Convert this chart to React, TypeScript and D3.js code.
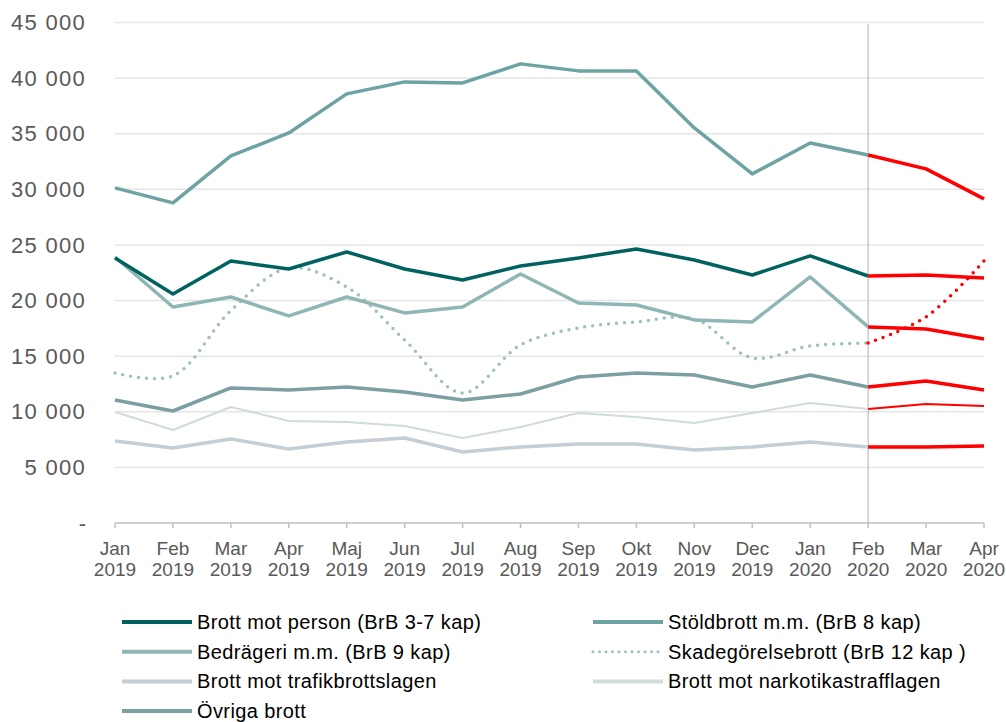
import { useEffect } from 'react';
import * as d3 from 'd3';

// monthly counts, Jan 2019 - Feb 2020 (observed) and Feb - Apr 2020 (forecast)
const months = ['Jan', 'Feb', 'Mar', 'Apr', 'Maj', 'Jun', 'Jul', 'Aug', 'Sep', 'Okt', 'Nov', 'Dec', 'Jan', 'Feb', 'Mar', 'Apr'];
const years = ['2019', '2019', '2019', '2019', '2019', '2019', '2019', '2019', '2019', '2019', '2019', '2019', '2020', '2020', '2020', '2020'];
const yTicks = [0, 5000, 10000, 15000, 20000, 25000, 30000, 35000, 40000, 45000];

const person = [23830, 20590, 23560, 22840, 24370, 22840, 21850, 23110, 23830, 24640, 23650, 22300, 24010, 22210];
const personFc = [22210, 22300, 22030];
const stold = [30130, 28780, 33000, 35070, 38580, 39660, 39570, 41280, 40650, 40650, 35520, 31390, 34170, 33090];
const stoldFc = [33090, 31840, 29140];
const bedrageri = [23920, 19420, 20320, 18620, 20320, 18890, 19420, 22390, 19780, 19600, 18260, 18080, 22120, 17630];
const bedrageriFc = [17630, 17450, 16550];
const skade = [13490, 13220, 19100, 22930, 21220, 16460, 11690, 16010, 17540, 18080, 18350, 14840, 15920, 16190];
const skadeFc = [16190, 18530, 23560];
const trafik = [7370, 6750, 7550, 6660, 7280, 7640, 6390, 6840, 7100, 7100, 6570, 6840, 7280, 6840];
const trafikFc = [6840, 6840, 6920];
const narkotika = [9980, 8360, 10430, 9170, 9080, 8720, 7640, 8630, 9890, 9530, 8990, 9890, 10790, 10250];
const narkotikaFc = [10250, 10700, 10520];
const ovriga = [11060, 10070, 12140, 11960, 12230, 11780, 11060, 11600, 13130, 13490, 13310, 12230, 13310, 12230];
const ovrigaFc = [12230, 12770, 11960];

const series = [
  { name: 'Brott mot trafikbrottslagen', values: trafik, fc: trafikFc, color: '#c4ced4', w: 3.5, dotted: false },
  { name: 'Brott mot narkotikastrafflagen', values: narkotika, fc: narkotikaFc, color: '#cfdcd8', w: 2, dotted: false },
  { name: 'Övriga brott', values: ovriga, fc: ovrigaFc, color: '#7b9fa2', w: 3.5, dotted: false },
  { name: 'Skadegörelsebrott (BrB 12 kap )', values: skade, fc: skadeFc, color: '#9fc0bc', w: 3.5, dotted: true },
  { name: 'Bedrägeri m.m. (BrB 9 kap)', values: bedrageri, fc: bedrageriFc, color: '#8fb6b5', w: 3.5, dotted: false },
  { name: 'Stöldbrott m.m. (BrB 8 kap)', values: stold, fc: stoldFc, color: '#6ea3a4', w: 3.5, dotted: false },
  { name: 'Brott mot person (BrB 3-7 kap)', values: person, fc: personFc, color: '#00625f', w: 3.5, dotted: false },
];

const legendOrder = [
  'Brott mot person (BrB 3-7 kap)', 'Stöldbrott m.m. (BrB 8 kap)',
  'Bedrägeri m.m. (BrB 9 kap)', 'Skadegörelsebrott (BrB 12 kap )',
  'Brott mot trafikbrottslagen', 'Brott mot narkotikastrafflagen',
  'Övriga brott',
];

const FONT = '"Liberation Sans", Arial, Helvetica, sans-serif';

export default function App() {
  useEffect(() => {
    document.body.style.margin = '0';
  }, []);

  const width = 1006;
  const height = 722;
  const x = d3.scalePoint<number>().domain(d3.range(months.length)).range([115, 984]);
  const y = d3.scaleLinear().domain([0, 45000]).range([523, 22.5]);
  const fcStart = months.length - 3;

  const line = d3.line<number>().x((_, i) => x(i)!).y(d => y(d));
  const smooth = d3.line<number>().x((_, i) => x(i)!).y(d => y(d)).curve(d3.curveCatmullRom.alpha(0.5));
  const lineFc = d3.line<number>().x((_, i) => x(i + fcStart)!).y(d => y(d));
  const smoothFc = d3.line<number>().x((_, i) => x(i + fcStart)!).y(d => y(d)).curve(d3.curveCatmullRom.alpha(0.5));

  const fmt = (v: number) => (v === 0 ? '-' : d3.format(',')(v).replace(/,/g, ' '));

  return (
    <svg width={width} height={height} style={{ display: 'block', fontFamily: FONT }}>
      {/* gridlines */}
      {yTicks.filter(t => t > 0).map(t => (
        <line key={t} x1={115} x2={984} y1={y(t)} y2={y(t)} stroke="#e6e6e6" strokeWidth={1.5} />
      ))}
      {yTicks.map(t => (
        <text key={'l' + t} x={86} y={y(t)} dy="0.35em" textAnchor="end" fontSize={22}
          letterSpacing={t === 0 ? 0 : 1.3} fill="#595959">{fmt(t)}</text>
      ))}

      {/* forecast separator */}
      <line x1={x(fcStart)} x2={x(fcStart)} y1={24} y2={523} stroke="#bdbdbd" strokeWidth={1.2} />

      {/* x axis */}
      <line x1={115} x2={984} y1={523} y2={523} stroke="#bfbfbf" strokeWidth={1.5} />
      {months.map((m, i) => (
        <g key={i} transform={`translate(${x(i)},0)`}>
          <line y1={523} y2={528} stroke="#bfbfbf" strokeWidth={1.5} />
          <text y={555} textAnchor="middle" fontSize={19} fill="#595959">{m}</text>
          <text y={576} textAnchor="middle" fontSize={19} fill="#595959">{years[i]}</text>
        </g>
      ))}

      {/* observed series */}
      {series.map(s => (
        <path key={s.name} d={(s.dotted ? smooth : line)(s.values)!} fill="none" stroke={s.color}
          strokeWidth={s.w} strokeLinejoin="round" strokeLinecap={s.dotted ? 'round' : 'butt'}
          strokeDasharray={s.dotted ? '0 8' : undefined} />
      ))}

      {/* forecast series */}
      {series.map(s => (
        <path key={'fc' + s.name} d={(s.dotted ? smoothFc : lineFc)(s.fc)!} fill="none" stroke="#ff0000"
          strokeWidth={s.w} strokeLinejoin="round" strokeLinecap={s.dotted ? 'round' : 'butt'}
          strokeDasharray={s.dotted ? '0 8' : undefined} />
      ))}

      {/* legend */}
      {legendOrder.map((name, i) => {
        const s = series.find(d => d.name === name)!;
        const col = i % 2;
        const row = Math.floor(i / 2);
        const lx = col === 0 ? 122 : 593;
        const ly = 622 + row * 29.7;
        return (
          <g key={name} transform={`translate(${lx},${ly})`}>
            <line x1={0} x2={70} stroke={s.color} strokeWidth={s.dotted ? 3 : 4}
              strokeLinecap={s.dotted ? 'round' : 'butt'} strokeDasharray={s.dotted ? '0 6.5' : undefined} />
            <text x={75} dy="0.35em" fontSize={20} letterSpacing={0.4} fill="#000">{name}</text>
          </g>
        );
      })}
    </svg>
  );
}
